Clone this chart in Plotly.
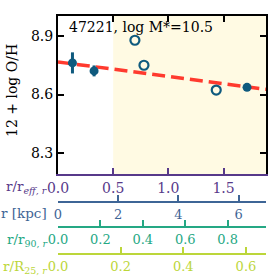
import plotly.graph_objects as go

# Data (x in r/r_eff, y = 12 + log O/H)
filled_x = [0.131, 0.327, 1.713]
filled_y = [8.762, 8.721, 8.637]
filled_err = [0.054, 0.028, 0.0]
open_x = [0.697, 0.779, 1.434]
open_y = [8.878, 8.750, 8.623]
fit_x = [0.0, 1.885]
fit_y = [8.767, 8.627]

reff_range = [0, 1.885]
kpc_range = [0, 6.91]
r90_range = [0, 0.981]
r25_range = [0, 0.664]
y_range = [8.194, 9.002]
y_ticks = [8.3, 8.6, 8.9]
reff_ticks = [0.0, 0.5, 1.0, 1.5]
kpc_ticks = [0, 2, 4, 6]
r90_ticks = [0.0, 0.2, 0.4, 0.6, 0.8]
r25_ticks = [0.0, 0.2, 0.4, 0.6]
shade_start = 0.5
label_text = "47221, log M*=10.5"

FONT = "DejaVu Serif"
C_PURPLE = "#57398a"
C_BLUE = "#3e6596"
C_TEAL = "#25a884"
C_LIME = "#bcd63a"
C_MARK = "#0f5a7e"
C_RED = "#ff3a2e"

fig = go.Figure()

fig.add_trace(go.Scatter(x=fit_x, y=fit_y, mode="lines",
                         line=dict(color=C_RED, width=3.5, dash="13px,6px"),
                         showlegend=False, hoverinfo="skip"))
fig.add_trace(go.Scatter(x=filled_x, y=filled_y, mode="markers",
                         marker=dict(color=C_MARK, size=9),
                         error_y=dict(type="data", array=filled_err, color=C_MARK,
                                      thickness=3, width=0),
                         showlegend=False))
fig.add_trace(go.Scatter(x=open_x, y=open_y, mode="markers",
                         marker=dict(color="rgba(0,0,0,0)", size=9,
                                     line=dict(color=C_MARK, width=2.2)),
                         showlegend=False))
# dummy traces so extra axes are drawn
for ax, rng in (("x2", kpc_range), ("x3", r90_range), ("x4", r25_range), ("x5", reff_range)):
    fig.add_trace(go.Scatter(x=[rng[0]], y=[None], xaxis=ax, yaxis="y",
                             mode="markers", showlegend=False, hoverinfo="skip"))

fig.add_shape(type="rect", xref="x", yref="y domain", x0=shade_start, x1=reff_range[1] + 1,
              y0=0, y1=1, fillcolor="#fffae3", line=dict(width=0), layer="below")

ydom0 = 0.3366
common_tick = dict(ticks="inside", ticklen=6, tickwidth=1.5, showgrid=False,
                   zeroline=False, showline=True, linewidth=2, automargin=False)

fig.update_layout(
    width=277, height=277,
    margin=dict(l=58, r=11.3, t=15.7, b=22.7, autoexpand=False),
    paper_bgcolor="white", plot_bgcolor="white",
    font=dict(family=FONT, size=14, color="black"),
    xaxis=dict(range=reff_range, tickvals=reff_ticks, tickformat=".1f",
               linecolor=C_PURPLE, tickcolor=C_PURPLE,
               tickfont=dict(color=C_PURPLE, size=14), anchor="y", **common_tick),
    xaxis5=dict(range=reff_range, tickvals=reff_ticks, showticklabels=False,
                linecolor="black", tickcolor="black", overlaying="x", side="top",
                anchor="y", **common_tick),
    xaxis2=dict(range=kpc_range, tickvals=kpc_ticks, overlaying="x", anchor="free",
                position=0.217, linecolor=C_BLUE, tickcolor=C_BLUE,
                tickfont=dict(color=C_BLUE, size=13), **common_tick),
    xaxis3=dict(range=r90_range, tickvals=r90_ticks, tickformat=".1f", overlaying="x",
                anchor="free", position=0.1115, linecolor=C_TEAL, tickcolor=C_TEAL,
                tickfont=dict(color=C_TEAL, size=13), **common_tick),
    xaxis4=dict(range=r25_range, tickvals=r25_ticks, tickformat=".1f", overlaying="x",
                anchor="free", position=0.0, linecolor=C_LIME, tickcolor=C_LIME,
                tickfont=dict(color=C_LIME, size=13), **common_tick),
    yaxis=dict(range=y_range, tickvals=y_ticks, tickformat=".1f", domain=[ydom0, 1],
               linecolor="black", tickcolor="black", mirror="ticks",
               tickfont=dict(size=14), **common_tick),
)

def yp(px):
    return (254.3 - px) / 238.6

ann = [
    dict(text=label_text, x=(67 - 58) / 207.4, y=yp(27), xanchor="left", yanchor="middle",
         font=dict(size=14, color="black")),
    dict(text="12 + log O/H", x=(12 - 58) / 207.4, y=yp(90), textangle=-90,
         xanchor="center", yanchor="middle", font=dict(size=14, color="black")),
    dict(text="r/r<sub><i>eff, r</i></sub>", x=-0.045, y=yp(187), xanchor="right",
         yanchor="middle", font=dict(size=13.5, color=C_PURPLE)),
    dict(text="r [kpc]", x=-0.045, y=yp(213), xanchor="right", yanchor="middle",
         font=dict(size=13.5, color=C_BLUE)),
    dict(text="r/r<sub>90, <i>r</i></sub>", x=-0.045, y=yp(240), xanchor="right",
         yanchor="middle", font=dict(size=13.5, color=C_TEAL)),
    dict(text="r/R<sub>25, <i>r</i></sub>", x=-0.045, y=yp(267), xanchor="right",
         yanchor="middle", font=dict(size=13.5, color=C_LIME)),
]
for a in ann:
    fig.add_annotation(xref="paper", yref="paper", showarrow=False, **a)

fig.write_html("out.html", config={"displayModeBar": False},
               post_script="document.body.style.margin='0px';document.body.style.padding='0px';")
